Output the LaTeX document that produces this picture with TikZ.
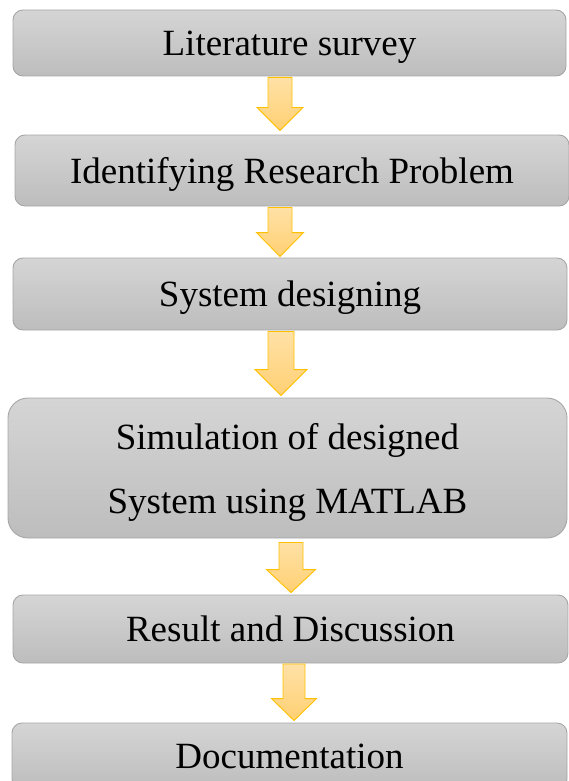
\documentclass[tikz,border=0pt]{standalone}
\usepackage{fontspec}
\setmainfont{Liberation Serif}
\usetikzlibrary{calc}

\definecolor{boxtop}{HTML}{D5D5D5}
\definecolor{boxbot}{HTML}{BDBDBD}
\definecolor{boxline}{HTML}{A6A6A6}
\definecolor{arrtop}{HTML}{FFE1A6}
\definecolor{arrbot}{HTML}{FFD073}
\definecolor{arrline}{HTML}{FFC000}

\tikzset{
  stage/.style={draw=boxline, line width=0.9pt, top color=boxtop, bottom color=boxbot,
    rounded corners=10pt, inner sep=0pt, font=\fontsize{37}{44}\selectfont,
    text height=25pt, text depth=0pt},
  arrowbody/.style={draw=arrline, line width=0.9pt, top color=arrtop, bottom color=arrbot,
    line join=miter},
}

% Block arrow from the bottom of #1 to the top of #2.
% #3 centre x, #4 shaft half width, #5 head half width, #6 head length,
% #7 gap below #1, #8 gap above #2
\newcommand{\stagearrow}[8]{%
  \path[arrowbody] let \p1=(#1.south), \p2=(#2.north) in
    (#3pt-#4pt, \y1-#7pt) -- (#3pt+#4pt, \y1-#7pt)
    -- (#3pt+#4pt, \y2+#8pt+#6pt) -- (#3pt+#5pt, \y2+#8pt+#6pt)
    -- (#3pt, \y2+#8pt)
    -- (#3pt-#5pt, \y2+#8pt+#6pt) -- (#3pt-#4pt, \y2+#8pt+#6pt) -- cycle;}

\begin{document}
\begin{tikzpicture}[x=1pt,y=-1pt]
\useasboundingbox (0,0) rectangle (569,781);
\clip (0,0) rectangle (569,781);

\node[stage, minimum width=553pt, minimum height=66pt] (s1) at (289.5,43) {Literature survey};
\node[stage, minimum width=554pt, minimum height=71pt] (s2) at (292,170.5) {Identifying Research Problem};
\node[stage, minimum width=554pt, minimum height=72pt] (s3) at (290,294) {System designing};
\node[stage, rounded corners=20pt, minimum width=559pt, minimum height=140pt, align=center,
      font=\fontsize{37}{64}\selectfont, text height=90pt, text depth=0pt] (s4) at (287.5,468)
      {Simulation of designed\\System using MATLAB};
\node[stage, minimum width=555pt, minimum height=68pt] (s5) at (290.5,629) {Result and Discussion};
\node[stage, minimum width=555pt, minimum height=66pt] (s6) at (289.5,756) {Documentation};

\stagearrow{s1}{s2}{280}{12}{23}{23}{1}{4}
\stagearrow{s2}{s3}{280}{12}{23.5}{24}{1}{1}
\stagearrow{s3}{s4}{281}{13}{26}{26}{1}{2}
\stagearrow{s4}{s5}{291}{12}{24.5}{23}{4}{2}
\stagearrow{s5}{s6}{294}{11}{22.5}{22}{0.5}{2}
\end{tikzpicture}
\end{document}
